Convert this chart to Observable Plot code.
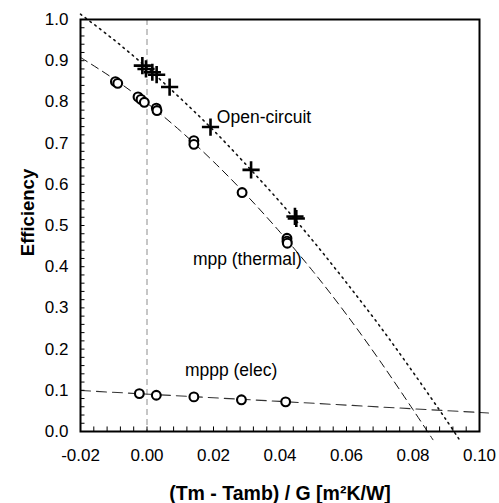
<!DOCTYPE html>
<html>
<head>
<meta charset="utf-8">
<script src="https://cdn.jsdelivr.net/npm/d3@7"></script>
<script src="https://cdn.jsdelivr.net/npm/@observablehq/plot@0.6"></script>
<style>
  html, body { margin: 0; padding: 0; background: white; }
</style>
</head>
<body>
<div id="chart"></div>
<script>
// ---- data ----
// Open-circuit measurements (plus markers)
const ocX = [-0.0014, -0.0003, 0.0016, 0.0029, 0.0068, 0.0191, 0.0313, 0.0445, 0.0449];
const ocY = [0.888, 0.880, 0.872, 0.866, 0.836, 0.739, 0.635, 0.522, 0.517];
// Open-circuit fitted curve (dotted)
const ocFitX = [-0.02, -0.01, 0, 0.01, 0.02, 0.03, 0.04, 0.05, 0.06, 0.07, 0.08, 0.09, 0.0938];
const ocFitY = [1.013, 0.951, 0.883, 0.809, 0.731, 0.646, 0.557, 0.462, 0.361, 0.256, 0.144, 0.028, -0.018];

// mpp (thermal) measurements (open circles)
const thX = [-0.0095, -0.0088, -0.0027, -0.0018, -0.0008, 0.0028, 0.0030, 0.0141, 0.0141, 0.0286, 0.0421, 0.0421, 0.0422];
const thY = [0.849, 0.845, 0.812, 0.806, 0.799, 0.785, 0.779, 0.706, 0.697, 0.580, 0.469, 0.462, 0.457];
// mpp (thermal) fitted curve (dashed)
const thFitX = [-0.02, -0.01, 0, 0.01, 0.02, 0.03, 0.04, 0.05, 0.06, 0.07, 0.08, 0.0860];
const thFitY = [0.908, 0.856, 0.797, 0.730, 0.655, 0.573, 0.484, 0.388, 0.284, 0.172, 0.053, -0.020];

// mppp (elec) measurements (open circles)
const elX = [-0.0023, 0.0028, 0.0141, 0.0284, 0.0417];
const elY = [0.092, 0.088, 0.084, 0.077, 0.072];
// mppp (elec) fitted line (dashed)
const elFitX = [-0.02, 0.04, 0.1027];
const elFitY = [0.0995, 0.073, 0.045];

// Series labels
const labelText = ["Open-circuit", "mpp (thermal)", "mppp (elec)"];
const labelX = [0.0210, 0.0138, 0.0114];
const labelY = [0.762, 0.417, 0.148];

// Axes
const xTicks = [-0.02, 0.00, 0.02, 0.04, 0.06, 0.08, 0.10];
const xTickLabels = ["-0.02", "0.00", "0.02", "0.04", "0.06", "0.08", "0.10"];
const yTicks = [0.0, 0.1, 0.2, 0.3, 0.4, 0.5, 0.6, 0.7, 0.8, 0.9, 1.0];
const yTickLabels = ["0.0", "0.1", "0.2", "0.3", "0.4", "0.5", "0.6", "0.7", "0.8", "0.9", "1.0"];
const xTitle = "(Tm - Tamb) / G [m²K/W]";
const yTitle = "Efficiency";

// ---- build tables ----
const pts = (xs, ys) => xs.map((x, i) => ({x, y: ys[i]}));
const ocPts = pts(ocX, ocY), ocFit = pts(ocFitX, ocFitY);
const thPts = pts(thX, thY), thFit = pts(thFitX, thFitY);
const elPts = pts(elX, elY), elFit = pts(elFitX, elFitY);
const labels = labelText.map((t, i) => ({t, x: labelX[i], y: labelY[i]}));
const xMinor = d3.range(0, 31).map(i => -0.02 + i * 0.004);
const yMinor = d3.range(0, 51).map(i => i * 0.02);

const font = "'Liberation Sans', Arial, Helvetica, sans-serif";

const chart = Plot.plot({
  width: 499,
  height: 503,
  marginLeft: 80,
  marginRight: 20,
  marginTop: 19,
  marginBottom: 72,
  x: {domain: [-0.02, 0.10], axis: null},
  y: {domain: [0, 1], axis: null},
  style: {fontFamily: font, background: "white", color: "black", overflow: "visible"},
  marks: [
    // zero reference line
    Plot.ruleX([0], {stroke: "#b4b4b4", strokeWidth: 1.5, strokeDasharray: "6,4"}),
    // fitted curves
    Plot.line(thFit, {x: "x", y: "y", stroke: "#111", strokeWidth: 1, strokeDasharray: "8,5", curve: "catmull-rom"}),
    Plot.line(ocFit, {x: "x", y: "y", stroke: "#111", strokeWidth: 1.6, strokeDasharray: "1.6,4.4", curve: "catmull-rom"}),
    Plot.line(elFit, {x: "x", y: "y", stroke: "#333", strokeWidth: 1.1, strokeDasharray: "10,6"}),
    // inner ticks
    Plot.ruleX(xMinor, {x: d => d, y1: 0, y2: 0.011, stroke: "black", strokeWidth: 1}),
    Plot.ruleY(yMinor, {y: d => d, x1: -0.02, x2: -0.01865, stroke: "black", strokeWidth: 1}),
    Plot.frame({stroke: "black", strokeWidth: 2}),
    // markers
    Plot.dot(thPts, {x: "x", y: "y", r: 4.4, symbol: "circle", stroke: "black", strokeWidth: 2.1, fill: "white"}),
    Plot.dot(elPts, {x: "x", y: "y", r: 4.4, symbol: "circle", stroke: "black", strokeWidth: 2.1, fill: "white"}),
    Plot.dot(ocPts, {x: "x", y: "y", r: 5.6, symbol: "plus", stroke: "black", strokeWidth: 2.6}),
    // series labels
    Plot.text(labels, {x: "x", y: "y", text: "t", textAnchor: "start", lineAnchor: "middle", fontSize: 17.5, fill: "black"}),
    // tick labels
    Plot.text(xTicks, {x: d => d, frameAnchor: "bottom", dy: 24, lineAnchor: "middle", textAnchor: "middle", text: (d, i) => xTickLabels[i], fontSize: 17, fill: "black"}),
    Plot.text(yTicks, {y: d => d, frameAnchor: "left", dx: -12, textAnchor: "end", lineAnchor: "middle", text: (d, i) => yTickLabels[i], fontSize: 17, fill: "black"}),
    // axis titles
    Plot.text([xTitle], {frameAnchor: "bottom", dy: 62, lineAnchor: "middle", textAnchor: "middle", text: d => d, fontSize: 19.5, fontWeight: "bold", fill: "black"}),
    Plot.text([yTitle], {frameAnchor: "left", dx: -52, dy: -13, rotate: -90, lineAnchor: "middle", textAnchor: "middle", text: d => d, fontSize: 18.5, fontWeight: "bold", fill: "black"})
  ]
});

document.getElementById("chart").appendChild(chart);
</script>
</body>
</html>
